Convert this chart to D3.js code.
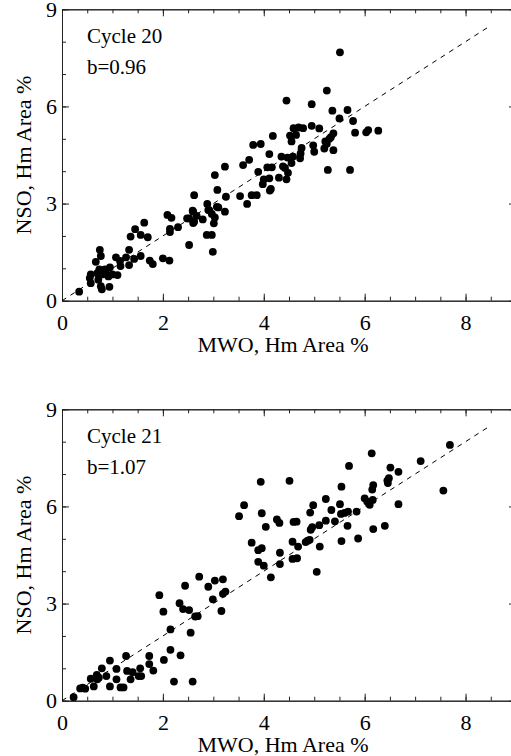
<!DOCTYPE html>
<html>
<head>
<meta charset="utf-8">
<script src="https://cdnjs.cloudflare.com/ajax/libs/d3/7.8.5/d3.min.js"></script>
<style>
  body { margin: 0; background: #fff; }
  text { font-family: "Liberation Serif", "Times New Roman", serif; fill: #000; }
</style>
</head>
<body>
<svg width="511" height="756"></svg>
<script>
// points: [MWO, NSO]
var cycle20 = [
  [0.34,0.28],[0.57,0.81],[0.57,0.54],[0.55,0.70],[0.67,1.20],[0.70,0.85],[0.74,0.97],[0.75,1.57],
  [0.77,1.38],[0.79,0.81],[0.77,0.45],[0.79,0.35],[0.72,0.65],[0.85,0.97],[0.89,0.81],[0.94,0.43],
  [0.95,1.03],[1.00,0.81],[0.92,0.75],[1.07,1.34],[1.10,0.79],[1.15,1.23],[1.16,1.07],[1.27,1.34],
  [1.33,1.57],[1.33,1.10],[1.36,1.98],[1.43,1.29],[1.45,2.21],[1.56,1.38],[1.56,2.03],[1.63,2.41],
  [1.70,1.96],[1.74,1.24],[1.80,1.13],[2.00,1.31],[2.13,1.24],
  [2.09,2.65],[2.17,2.56],[2.14,2.22],[2.14,2.12],[2.30,2.27],[2.48,2.54],[2.52,1.72],[2.59,2.78],
  [2.62,3.26],[2.67,2.62],[2.62,2.44],[2.60,2.40],[2.79,2.51],[2.88,2.99],[2.90,2.80],[2.97,2.68],
  [3.03,2.57],[3.10,2.88],[3.01,2.39],[2.87,2.03],[2.97,2.03],[2.99,1.51],[3.03,3.88],[3.08,3.42],
  [3.23,2.75],[3.23,4.14],[3.25,3.21],[2.52,2.54],[2.60,2.75],[2.92,2.80],[3.07,2.90],
  [3.53,3.23],[3.67,2.99],[3.59,4.19],[3.71,4.35],[3.76,3.26],[3.86,3.26],[3.89,3.98],[3.79,4.81],
  [3.94,4.84],[3.98,3.60],[4.11,3.78],[4.11,4.53],[4.07,4.12],[4.16,4.12],[4.12,3.40],[4.14,3.45],
  [4.18,5.09],[4.00,3.75],
  [5.51,7.67],[5.25,6.49],[4.45,6.18],[4.95,6.07],[5.36,5.87],[5.66,5.89],[5.50,5.63],[5.77,5.55],
  [4.59,5.33],[4.69,5.35],[4.78,5.33],[4.95,5.40],[5.10,5.32],[5.38,5.17],[5.33,5.05],[5.81,5.19],
  [6.03,5.20],[6.07,5.27],[6.27,5.25],[4.52,5.10],[4.55,4.92],[4.64,5.12],[4.75,4.72],[4.73,4.55],
  [4.72,4.40],[4.98,4.80],[5.00,4.60],[5.20,4.70],[5.25,4.85],[5.22,4.92],[5.30,5.00],[5.38,4.65],
  [5.27,4.04],[5.71,4.04],[4.35,4.45],[4.47,4.42],[4.38,4.15],[4.42,4.10],[4.55,4.25],[4.58,4.45],
  [4.30,3.80],[4.45,3.75],[4.48,3.95]
];

var cycle21 = [
  [0.23,0.11],[0.36,0.38],[0.41,0.40],[0.46,0.37],[0.57,0.68],[0.63,0.44],[0.69,0.80],[0.73,0.71],
  [0.70,0.66],[0.79,1.00],[0.88,0.76],[0.95,1.24],[0.95,0.44],[1.08,0.98],[1.08,0.66],[1.16,0.41],
  [1.22,0.41],[1.27,1.38],[1.29,0.92],[1.36,0.66],[1.40,0.88],[1.52,0.76],[1.57,0.76],[1.55,1.00],
  [1.73,1.38],[1.73,1.13],[1.81,0.93],[1.93,3.26],[2.01,2.75],[2.02,1.26],[2.15,2.20],[2.15,1.57],
  [2.22,0.59],[2.35,1.40],
  [2.33,3.01],[2.44,3.55],[2.40,2.83],[2.52,2.80],[2.55,2.10],[2.59,0.59],[2.64,2.60],[2.69,2.61],
  [2.72,3.83],[2.90,3.52],[2.99,3.13],[3.03,3.71],[3.19,3.75],[3.19,3.30],[3.24,3.37],[3.16,2.77],
  [3.51,5.70],[3.61,6.04],[3.76,4.88],[3.89,4.65],[3.96,4.71],[3.89,4.29],[4.00,4.17],[4.14,3.81],
  [3.94,6.76],[3.96,5.79],[4.04,5.37],[4.26,5.60],[4.31,5.49],[4.32,4.57],[4.32,4.22],[4.51,6.79],
  [4.57,4.91],[4.68,4.76],[4.57,4.38],[4.66,4.40],[4.59,5.52],[4.65,5.53],[4.83,4.90],[4.87,4.94],
  [4.91,4.97],[4.92,5.81],[4.98,6.04],[4.93,5.28],[4.96,5.36],[5.10,5.42],[5.11,4.76],[5.05,3.98],
  [5.23,6.23],[5.23,5.56],[5.34,5.89],[5.41,5.54],[5.51,6.07],[5.54,6.61],[5.54,4.93],[5.53,5.77],
  [5.60,5.80],[5.67,5.84],[5.66,5.40],[5.69,7.25],[5.84,5.84],[5.87,5.01],[6.00,6.25],[6.05,6.15],
  [6.10,6.05],[6.16,6.20],[6.14,7.64],[6.15,6.52],[6.17,6.66],[6.17,5.30],[6.40,5.40],[6.46,6.72],
  [6.48,6.87],[6.45,6.80],[6.51,7.20],[6.67,7.07],[6.67,6.07],[7.11,7.40],[7.56,6.49],[7.69,7.90]
];

var xMajor = [0, 2, 4, 6, 8];
var xMinor = d3.range(0, 9.01, 0.5);
var yMajor = [0, 3, 6, 9];
var yMinor = d3.range(0, 9.01, 1);
var oneToOne = [[0, 0], [8.5, 8.5]];   // dashed reference line

var panels = [
  {data: cycle20, title: "Cycle 20", slope: "b=0.96", top: 9.3},
  {data: cycle21, title: "Cycle 21", slope: "b=1.07", top: 409.3}
];

var svg = d3.select("svg");
var left = 62, right = 516, plotH = 291.4;

panels.forEach(function(p){
    var x = d3.scaleLinear().domain([0, 9]).range([left, right]);
    var y = d3.scaleLinear().domain([0, 9]).range([p.top + plotH, p.top]);
    var g = svg.append("g");

    // minor ticks on all four sides
    g.append("g").attr("transform", "translate(0," + y(0) + ")")
        .call(d3.axisBottom(x).tickValues(xMinor).tickSize(-4).tickSizeOuter(0).tickFormat(""));
    g.append("g").attr("transform", "translate(0," + y(9) + ")")
        .call(d3.axisTop(x).tickValues(xMinor).tickSize(-4).tickSizeOuter(0).tickFormat(""));
    g.append("g").attr("transform", "translate(" + x(0) + ",0)")
        .call(d3.axisLeft(y).tickValues(yMinor).tickSize(-4).tickSizeOuter(0).tickFormat(""));
    g.append("g").attr("transform", "translate(" + x(9) + ",0)")
        .call(d3.axisRight(y).tickValues(yMinor).tickSize(-4).tickSizeOuter(0).tickFormat(""));

    // major ticks, labels on bottom and left only
    g.append("g").attr("class", "lab").attr("transform", "translate(0," + y(0) + ")")
        .call(d3.axisBottom(x).tickValues(xMajor).tickSize(-7).tickSizeOuter(0).tickPadding(14).tickFormat(d3.format("d")));
    g.append("g").attr("transform", "translate(0," + y(9) + ")")
        .call(d3.axisTop(x).tickValues(xMajor).tickSize(-7).tickSizeOuter(0).tickFormat(""));
    g.append("g").attr("class", "lab").attr("transform", "translate(" + x(0) + ",0)")
        .call(d3.axisLeft(y).tickValues(yMajor).tickSize(-7).tickSizeOuter(0).tickPadding(5).tickFormat(d3.format("d")));
    g.append("g").attr("transform", "translate(" + x(9) + ",0)")
        .call(d3.axisRight(y).tickValues(yMajor).tickSize(-7).tickSizeOuter(0).tickFormat(""));

    g.selectAll(".domain, .tick line").attr("stroke", "#222").attr("stroke-width", 1);
    g.selectAll(".lab text").style("font-size", "22px").attr("fill", "#000")
        .style("font-family", "'Liberation Serif', serif");

    // dashed 1:1 line
    g.append("path")
        .datum(oneToOne)
        .attr("d", d3.line().x(d => x(d[0])).y(d => y(d[1])))
        .attr("fill", "none")
        .attr("stroke", "#000")
        .attr("stroke-width", 1)
        .attr("stroke-dasharray", "5,5");

    g.append("g")
        .selectAll("circle")
        .data(p.data)
        .enter()
        .append("circle")
        .attr("cx", d => x(d[0]))
        .attr("cy", d => y(d[1]))
        .attr("r", 3.9)
        .attr("fill", "#000");

    g.append("text").attr("x", 87).attr("y", p.top + 34)
        .style("font-size", "21px").text(p.title);
    g.append("text").attr("x", 87).attr("y", p.top + 65)
        .style("font-size", "21px").text(p.slope);

    g.append("text")
        .attr("x", 283).attr("y", y(0) + 51)
        .attr("text-anchor", "middle")
        .style("font-size", "22px")
        .text("MWO, Hm Area %");

    g.append("text")
        .attr("transform", "translate(31," + (p.top + plotH / 2) + ") rotate(-90)")
        .attr("text-anchor", "middle")
        .style("font-size", "22px")
        .text("NSO, Hm Area %");
});
</script>
</body>
</html>
